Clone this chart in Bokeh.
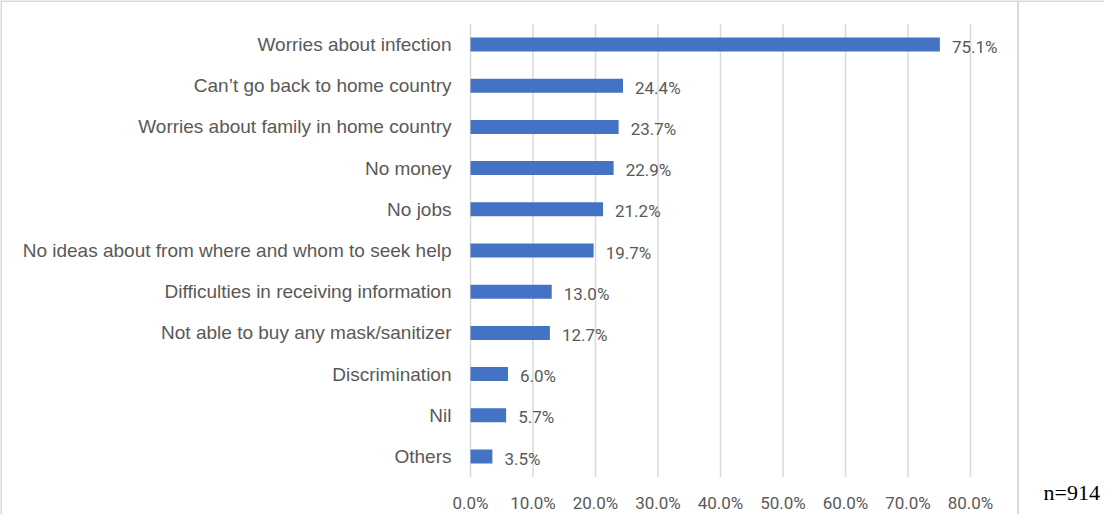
from bokeh.plotting import figure
from bokeh.models import ColumnDataSource, Range1d, Span
from bokeh.core.properties import value
from bokeh.embed import file_html
from bokeh.resources import INLINE

categories = [
    "Worries about infection",
    "Can\u2019t go back to home country",
    "Worries about family in home country",
    "No money",
    "No jobs",
    "No ideas about from where and whom to seek help",
    "Difficulties in receiving information",
    "Not able to buy any mask/sanitizer",
    "Discrimination",
    "Nil",
    "Others",
]
values = [75.1, 24.4, 23.7, 22.9, 21.2, 19.7, 13.0, 12.7, 6.0, 5.7, 3.5]
ticks = [0, 10, 20, 30, 40, 50, 60, 70, 80]
tick_labels = ["0.0%", "10.0%", "20.0%", "30.0%", "40.0%", "50.0%", "60.0%", "70.0%", "80.0%"]
note = "n=914"

n = len(categories)
ypos = [n - 1 - i for i in range(n)]
value_labels = ["%.1f%%" % v for v in values]

W, H = 1104, 514
px_per_unit_x = 6.25
px_per_unit_y = 41.2
x0 = -(478 - 8) / px_per_unit_x
x1 = x0 + W / px_per_unit_x
y1 = (n - 1) + (52 - 8) / px_per_unit_y
y0 = y1 - H / px_per_unit_y

p = figure(width=W, height=H, x_range=Range1d(x0, x1), y_range=Range1d(y0, y1),
           x_axis_location=None, y_axis_location=None, toolbar_location=None,
           output_backend="svg", min_border=0)
p.grid.visible = False
p.outline_line_color = None
p.background_fill_color = "white"
p.border_fill_color = "white"

grid_color = "#d9d9d9"
gsrc = ColumnDataSource(dict(x=ticks, y0=[-0.5] * len(ticks), y1=[n - 0.5] * len(ticks)))
p.segment(x0="x", y0="y0", x1="x", y1="y1", source=gsrc, line_color=grid_color, line_width=1.5)

src = ColumnDataSource(dict(y=ypos, v=values, cat=categories, lab=value_labels))
p.hbar(y="y", left=0, right="v", height=0.34, source=src, fill_color="#4472C4", line_color=None)

p.text(x=0, y="y", text="cat", source=src, x_offset=-19, text_align="right", text_baseline="middle",
       text_font=value("Liberation Sans"), text_font_size="19px", text_color="#595959")
p.text(x="v", y="y", text="lab", source=src, x_offset=12, y_offset=2, text_align="left", text_baseline="middle",
       text_font=value("Roboto"), text_font_size="17px", text_color="#595959")

tsrc = ColumnDataSource(dict(x=ticks, y=[-0.5] * len(ticks), t=tick_labels))
p.text(x="x", y="y", text="t", source=tsrc, y_offset=26, text_align="center", text_baseline="middle",
       text_font=value("Roboto"), text_font_size="17px", text_color="#595959")

border = "#d9d9d9"
p.add_layout(Span(location=(8.5 - 478) / px_per_unit_x, dimension="height", line_color=border, line_width=2))
p.add_layout(Span(location=(1025.5 - 478) / px_per_unit_x, dimension="height", line_color=border, line_width=2))
p.add_layout(Span(location=y1 - 0.5 / px_per_unit_y, dimension="width", line_color=border, line_width=2))

nsrc = ColumnDataSource(dict(x=[(1051 - 478) / px_per_unit_x], y=[-0.5], t=[note]))
p.text(x="x", y="y", text="t", source=nsrc, y_offset=15, text_align="left", text_baseline="middle",
       text_font=value("Liberation Serif"), text_font_size="22px", text_color="#000000")

open("out.html", "w").write(file_html(p, INLINE))
